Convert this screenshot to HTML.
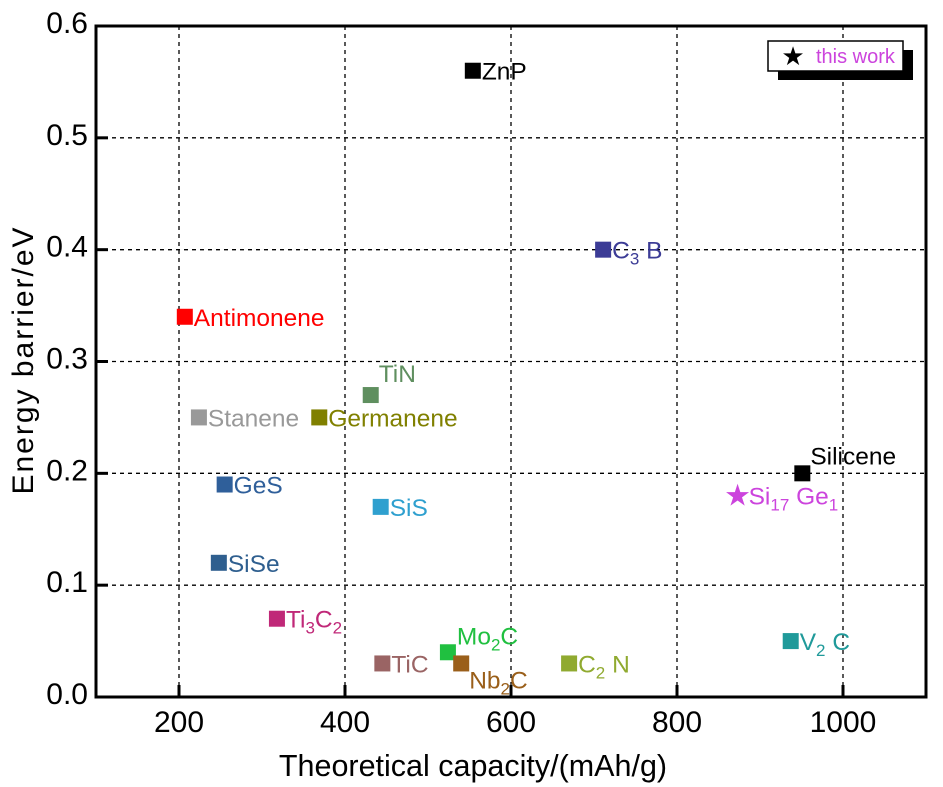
<!DOCTYPE html>
<html><head><meta charset="utf-8"><style>
body{margin:0;background:#fff;}
svg{display:block;font-family:"Liberation Sans",Arial,sans-serif;}
</style></head><body>
<svg id="chart" width="943" height="787"></svg>
<script>
const names=["ZnP","C3B","Antimonene","TiN","Stanene","Germanene","Silicene","Si17Ge1","GeS","SiS","SiSe","Ti3C2","TiC","Mo2C","Nb2C","C2N","V2C"];
const capacity=[554,711,207,431,224,369,951,873,255,443,248,318,445,524,540,670,937];
const barrier=[0.56,0.40,0.34,0.27,0.25,0.25,0.20,0.18,0.19,0.17,0.12,0.07,0.03,0.04,0.03,0.03,0.05];
const xTicks=[200,400,600,800,1000];
const yTicks=[0.0,0.1,0.2,0.3,0.4,0.5,0.6];
const colors=["#000","#3c3c96","#ff0000","#5f8f5f","#999","#808000","#000","#cc44dd","#2f5f9a","#2fa0cf","#2f5f8f","#c02878","#9a6464","#20c040","#9a5f1a","#90aa30","#209a9a"];
const labelHtml=["ZnP","C<tspan font-size='17' dy='6'>3</tspan><tspan dy='-6'> B</tspan>","Antimonene","TiN","Stanene","Germanene","Silicene","Si<tspan font-size='17' dy='6'>17</tspan><tspan dy='-6'> Ge</tspan><tspan font-size='17' dy='6'>1</tspan>","GeS","SiS","SiSe","Ti<tspan font-size='17' dy='6'>3</tspan><tspan dy='-6'>C</tspan><tspan font-size='17' dy='6'>2</tspan>","TiC","Mo<tspan font-size='17' dy='6'>2</tspan><tspan dy='-6'>C</tspan>","Nb<tspan font-size='17' dy='6'>2</tspan><tspan dy='-6'>C</tspan>","C<tspan font-size='17' dy='6'>2</tspan><tspan dy='-6'> N</tspan>","V<tspan font-size='17' dy='6'>2</tspan><tspan dy='-6'> C</tspan>"];
const lblDx=[9,9,9,8,9,9,8,11,9,9,9,9,9,9,8,9,9];
const lblDy=[9,9,9,-13,9,9,-9,9,9,9,9,9,9,-8,25,9,9];
const L=96,R=926,T=26,B=697;
const sx=v=>L+(v-100)*(R-L)/1000;
const sy=v=>B-v*(B-T)/0.6;
const svg=document.getElementById('chart');
const NS="http://www.w3.org/2000/svg";
function mk(t,a,p){const e=document.createElementNS(NS,t);for(const k in a)e.setAttribute(k,a[k]);(p||svg).appendChild(e);return e;}
xTicks.forEach(v=>{const g=mk('line',{x1:sx(v),x2:sx(v),y1:T,y2:B,stroke:'#000','stroke-width':1.3,'stroke-dasharray':'4,4'});

const tk=mk('line',{x1:sx(v),x2:sx(v),y1:B,y2:B-12,stroke:'#000','stroke-width':3});

const t=mk('text',{x:sx(v),y:B+35,'text-anchor':'middle','font-size':30});t.textContent=v;
});
yTicks.forEach(v=>{if(v>0&&v<0.6){const g=mk('line',{x1:L,x2:R,y1:sy(v),y2:sy(v),stroke:'#000','stroke-width':1.3,'stroke-dasharray':'4,4'});
}
const tk=mk('line',{x1:L,x2:L+12,y1:sy(v),y2:sy(v),stroke:'#000','stroke-width':3});

const t=mk('text',{x:L-8,y:sy(v)+7,'text-anchor':'end','font-size':30});t.textContent=v.toFixed(1);
});
const fr=mk('rect',{x:L,y:T,width:R-L,height:B-T,fill:'none',stroke:'#000','stroke-width':3});

names.forEach((n,i)=>{const x=sx(capacity[i]),y=sy(barrier[i]);let m;
if(n==="Si17Ge1"){m=mk('text',{x:x,y:y+10,'text-anchor':'middle','font-size':30,fill:colors[i]});m.textContent='★';}
else m=mk('rect',{x:x-8,y:y-8,width:16,height:16,fill:colors[i]});

const t=mk('text',{x:x+lblDx[i],y:y+lblDy[i],'font-size':24.5,fill:colors[i]});t.innerHTML=labelHtml[i];
});
const sh=mk('rect',{x:778,y:50,width:135,height:30,fill:'#000'});
const lb=mk('rect',{x:768,y:41,width:135,height:30,fill:'#fff',stroke:'#000','stroke-width':1.5});
const ls=mk('text',{x:793,y:65,'text-anchor':'middle','font-size':26,fill:'#000'});ls.textContent='★';
const lt=mk('text',{x:816,y:63,'font-size':20,fill:'#cc44dd'});lt.textContent='this work';
const xt=mk('text',{x:473,y:776,'text-anchor':'middle','font-size':30.5});xt.textContent='Theoretical capacity/(mAh/g)';
const yt=mk('text',{x:0,y:0,'text-anchor':'middle','font-size':30,transform:'translate(33,360) rotate(-90)','letter-spacing':'2'});yt.textContent='Energy barrier/eV';
</script>
</body></html>
